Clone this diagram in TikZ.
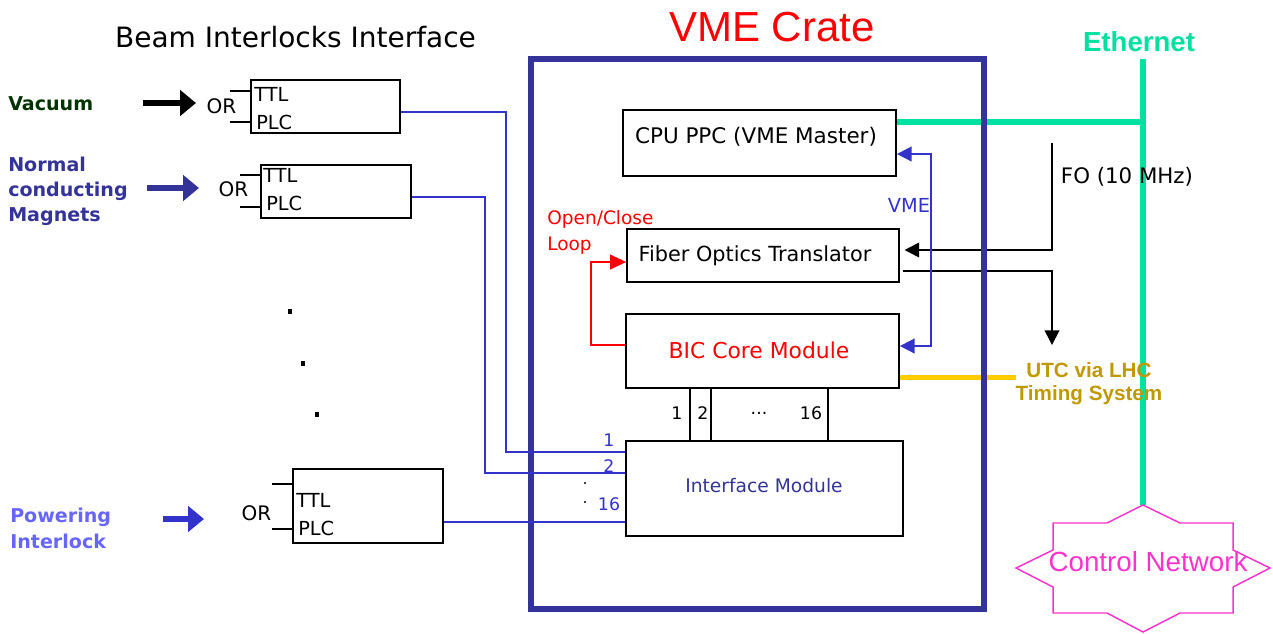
\documentclass[tikz,border=0pt]{standalone}
\usepackage{fontspec}
\setmainfont{DejaVu Sans}
\newfontfamily\arialf{Liberation Sans}
\usetikzlibrary{arrows.meta,fit}
\definecolor{crateblue}{RGB}{51,51,153}
\definecolor{lineblue}{RGB}{51,51,204}
\definecolor{ethgreen}{RGB}{0,224,160}
\definecolor{cnmag}{RGB}{255,51,204}
\definecolor{utcgold}{RGB}{192,153,0}
\definecolor{utcyellow}{RGB}{255,204,0}
\definecolor{vacgreen}{RGB}{0,51,0}
\definecolor{powblue}{RGB}{102,102,255}
\newcommand{\myfs}[2]{\fontsize{#1}{#2}\selectfont}
\begin{document}
\begin{tikzpicture}[x=0.75pt,y=-0.75pt,
  box/.style={draw=black,line width=1.3pt,inner sep=0pt},
  txt/.style={inner sep=0pt},
  thinline/.style={line width=1.3pt},
  blueline/.style={draw=lineblue,line width=1.3pt},
  bigarrow/.style={line width=4.5pt,-{Triangle[length=12pt,width=19pt]}},
  smalltip/.style={-{Triangle[length=11pt,width=11pt]}},
  ethline/.style={draw=ethgreen,line width=4.5pt},
  boxtext/.style={inner sep=0pt,font=\myfs{14.5}{17}},
  ortext/.style={inner sep=0pt,font=\myfs{15}{18}},
  sidelabel/.style={inner sep=0pt,anchor=west,align=left,font=\bfseries\myfs{14.3}{18.75}},
]
\useasboundingbox (0,0) rectangle (1273,633);

% titles
\node[txt,font=\myfs{21}{25}] (title) at (295.5,37) {Beam Interlocks Interface};
\node[txt,font=\arialf\myfs{31.5}{36},text=red] (cratetitle) at (772,27) {VME Crate};
\node[txt,font=\arialf\bfseries\myfs{20.7}{24},text=ethgreen] (ethlabel) at (1139,42) {Ethernet};

% left side labels
\node[sidelabel,text=vacgreen] (vaclabel) at (8,104) {Vacuum};
\node[sidelabel,text=crateblue] (nclabel) at (8,191) {Normal\\conducting\\Magnets};
\node[sidelabel,text=powblue,font=\bfseries\myfs{14.3}{19.5}] (powlabel) at (10,528) {Powering\\Interlock};

% input arrows
\coordinate (vacA) at (143,103); \coordinate (vacB) at (196,103);
\coordinate (ncA) at (147,188); \coordinate (ncB) at (199,188);
\coordinate (powA) at (163,519); \coordinate (powB) at (204,519);
\draw[bigarrow,black] (vacA) -- (vacB);
\draw[bigarrow,crateblue] (ncA) -- (ncB);
\draw[bigarrow,lineblue] (powA) -- (powB);

% interlock boxes
\node[box,fit={(251,80)(400,133)}] (vac) {};
\node[box,fit={(261,165)(411,218)}] (nc) {};
\node[box,fit={(293,469)(443,543)}] (pow) {};

\node[ortext] (vacor) at (221.5,106) {OR};
\node[ortext] (ncor) at (233.5,189) {OR};
\node[ortext] (powor) at (256.5,513) {OR};

\node[boxtext,anchor=west] (vacttl) at (254,94) {TTL};
\node[boxtext,anchor=west] (vacplc) at (256,122) {PLC};
\node[boxtext,anchor=west] (ncttl) at (263,175) {TTL};
\node[boxtext,anchor=west] (ncplc) at (266,203) {PLC};
\node[boxtext,anchor=west] (powttl) at (296,500) {TTL};
\node[boxtext,anchor=west] (powplc) at (298,528) {PLC};

% stubs
\coordinate (vacs1) at (230,91); \coordinate (vacs2) at (230,122);
\coordinate (ncs1) at (240,175); \coordinate (ncs2) at (240,207);
\coordinate (pows1) at (272,484); \coordinate (pows2) at (272,529);
\draw[thinline] (vacs1) -- (vac.west |- vacs1);
\draw[thinline] (vacs2) -- (vac.west |- vacs2);
\draw[thinline] (ncs1) -- (nc.west |- ncs1);
\draw[thinline] (ncs2) -- (nc.west |- ncs2);
\draw[thinline] (pows1) -- (pow.west |- pows1);
\draw[thinline] (pows2) -- (pow.west |- pows2);

% dots
\fill (288,309) rectangle (292,314);
\fill (301,361) rectangle (305,366);
\fill (315,412) rectangle (319,417);

% crate inner boxes
\node[box,fit={(623,110)(896,176)}] (cpu) {};
\node[box,fit={(627,229)(899,282)}] (fot) {};
\node[box,fit={(626,314)(899,388)}] (bic) {};
\node[box,fit={(626,441)(903,536)}] (ifm) {};

\node[txt,font=\myfs{16.1}{19}] (cputext) at (756,137) {CPU PPC (VME Master)};
\node[txt,font=\myfs{15.6}{19}] (fottext) at (755,256) {Fiber Optics Translator};
\node[txt,font=\myfs{16.4}{19},text=red] (bictext) at (759,350) {BIC Core Module};
\node[txt,font=\myfs{14}{17},text=crateblue] (ifmtext) at (764,486) {Interface Module};

% ethernet and right-side connections
\coordinate (ethtop) at (1143,59);
\coordinate (ethjoin) at (1143,122);
\coordinate (cntop) at (1143,505);
\draw[ethline] (cpu.east |- ethjoin) -- (ethjoin);
\draw[ethline] (ethtop) -- (cntop);

\coordinate (utcend) at (1016,377);
\draw[utcyellow,line width=3.75pt] (bic.east |- utcend) -- (utcend);

\coordinate (fostart) at (1052,143);
\coordinate (focorner) at (1052,250);
\draw[thinline,smalltip,shorten >=3.5pt] (fostart) -- (focorner) -- (fot.east |- focorner);
\coordinate (fooutcorner) at (1052,271);
\coordinate (foend) at (1052,345);
\draw[thinline,smalltip] ([xshift=2pt]fot.east |- fooutcorner) -- (fooutcorner) -- (foend);

\node[txt,font=\myfs{16}{19}] (folabel) at (1127,177) {FO (10 MHz)};
\node[txt,font=\arialf\bfseries\myfs{15.5}{17.3},text=utcgold,align=center] (utclabel) at (1089,383.5) {UTC via LHC\\Timing System};

% VME bus
\coordinate (vmetop) at (931,154);
\coordinate (vmebot) at (931,346);
\node[txt,font=\myfs{14.5}{17},text=lineblue] (vmelabel) at (909,205) {VME};
\draw[draw=lineblue,line width=1.3pt,{Triangle[length=11pt,width=11pt]}-{Triangle[length=11pt,width=11pt]}]
  (cpu.east |- vmetop) -- (vmetop) -- (vmebot) -- (bic.east |- vmebot);

% open/close loop
\coordinate (loopa) at (591,345);
\coordinate (loopb) at (591,262);
\draw[red,line width=1.3pt,-{Triangle[length=12pt,width=11pt]}] (bic.west |- loopa) -- (loopa) -- (loopb) -- (fot.west |- loopb);
\node[txt,anchor=west,align=left,font=\myfs{13.9}{19.5},text=red] (looplabel) at (547,232) {Open/Close\\Loop};

% crate
\node[draw=crateblue,line width=4.5pt,inner sep=0pt,fit={(530.5,59)(983.5,609)}] (crate) {};

% bus lines between BIC and interface module
\coordinate (bus1) at (690,0); \coordinate (bus2) at (711,0); \coordinate (bus16) at (828,0);
\draw[thinline] (bic.south -| bus1) -- (ifm.north -| bus1);
\draw[thinline] (bic.south -| bus2) -- (ifm.north -| bus2);
\draw[thinline] (bic.south -| bus16) -- (ifm.north -| bus16);
\node[txt,font=\myfs{13}{16}] (b1) at (677,413) {1};
\node[txt,font=\myfs{13}{16}] (b2) at (703,413) {2};
\node[txt,font=\myfs{13}{16}] (bdots) at (759,413) {...};
\node[txt,font=\myfs{13}{16}] (b16) at (811,413) {16};

% interlock lines to interface module
\coordinate (l1a) at (506,112); \coordinate (l1b) at (506,452);
\coordinate (l2a) at (485,197); \coordinate (l2b) at (485,473);
\coordinate (l3) at (0,522);
\draw[blueline] (vac.east |- l1a) -- (l1a) -- (l1b) -- (ifm.west |- l1b);
\draw[blueline] (nc.east |- l2a) -- (l2a) -- (l2b) -- (ifm.west |- l2b);
\draw[blueline] (pow.east |- l3) -- (ifm.west |- l3);
\node[txt,font=\myfs{13}{16},text=lineblue] (in1) at (609,440) {1};
\node[txt,font=\myfs{13}{16},text=lineblue] (in2) at (609,466) {2};
\node[txt,font=\myfs{13}{16},text=lineblue] (in16) at (609,504) {16};
\fill (585,483) circle (1.2);
\fill (585,502) circle (1.2);

% control network
\draw[cnmag,line width=1.1pt] (cntop) -- (1107,523) -- (1053,523) -- (1053,550) -- (1016,568) -- (1053,587) -- (1053,613) -- (1107,613) -- (1143,632) -- (1180,613) -- (1233,613) -- (1233,587) -- (1270,568) -- (1233,550) -- (1233,523) -- (1180,523) -- cycle;
\node[txt,font=\arialf\myfs{20.8}{24},text=cnmag] (cn) at (1148,562) {Control Network};
\end{tikzpicture}
\end{document}
